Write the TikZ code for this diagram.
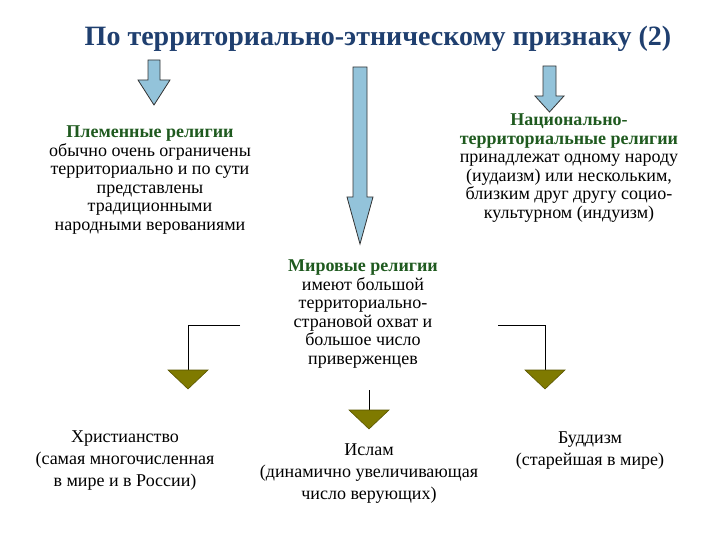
\documentclass[tikz,border=0pt]{standalone}
\usepackage{fontspec}
\setmainfont{Liberation Serif}
\begin{document}
\begin{tikzpicture}[x=1pt,y=-1pt,
 arr/.style={fill=arrblue,draw=black!80,line width=0.8pt},
 tri/.style={fill=olive,draw=olive!70!black,line width=0.6pt},
 con/.style={draw=black,line width=0.8pt},
 txt/.style={align=center,font=\fontsize{18}{18.5}\selectfont,inner sep=0pt},
 btxt/.style={align=center,font=\fontsize{18}{22}\selectfont,inner sep=0pt}]
\definecolor{arrblue}{HTML}{93C3DA}
\definecolor{headgreen}{HTML}{1F5A1F}
\definecolor{titleblue}{HTML}{1F3F6F}
\definecolor{olive}{HTML}{7F7A00}
\useasboundingbox (0,0) rectangle (720,540);
\node[text=titleblue,font=\fontsize{28}{30}\selectfont\bfseries] (title) at (378,39) {По территориально-этническому признаку (2)};
% arrows
\draw[arr] (148,60)--(160,60)--(160,80)--(170,80)--(154,105)--(138,80)--(148,80)--cycle;
\draw[arr] (543,66)--(556,66)--(556,96)--(564,96)--(549.5,112)--(535,96)--(543,96)--cycle;
\draw[arr] (353,67)--(367,67)--(367,197)--(373,197)--(360,244)--(347,197)--(353,197)--cycle;
% texts
\node[txt] (tribal) at (150,180) {\textcolor{headgreen}{\textbf{Племенные религии}}\\обычно очень ограничены\\территориально и по сути\\представлены\\традиционными\\народными верованиями};
\node[txt] (nat) at (569,168) {\textcolor{headgreen}{\textbf{Национально-}}\\\textcolor{headgreen}{\textbf{территориальные религии}}\\принадлежат одному народу\\(иудаизм) или нескольким,\\близким друг другу социо-\\культурном (индуизм)};
\node[txt] (world) at (363,314) {\textcolor{headgreen}{\textbf{Мировые религии}}\\имеют большой\\территориально-\\страновой охват и\\большое число\\приверженцев};
% connectors
\coordinate (l1) at (240,325); \coordinate (l2) at (188,325); \coordinate (l3) at (188,370);
\coordinate (r1) at (498,325); \coordinate (r2) at (545,325); \coordinate (r3) at (545,370);
\coordinate (m1) at (369,390); \coordinate (m2) at (369,410);
\draw[con] (l1)--(l2)--(l3);
\draw[con] (r1)--(r2)--(r3);
\draw[con] (m1)--(m2);
\draw[tri] (168,370)--(208,370)--(188,389)--cycle;
\draw[tri] (525,370)--(565,370)--(545,389)--cycle;
\draw[tri] (349,410)--(389,410)--(369,429)--cycle;
\node[btxt] (chr) at (125,461) {Христианство\\(самая многочисленная\\в мире и в России)};
\node[btxt] (isl) at (369,474) {Ислам\\(динамично увеличивающая\\число верующих)};
\node[btxt] (bud) at (590,451) {Буддизм\\(старейшая в мире)};
\end{tikzpicture}
\end{document}
